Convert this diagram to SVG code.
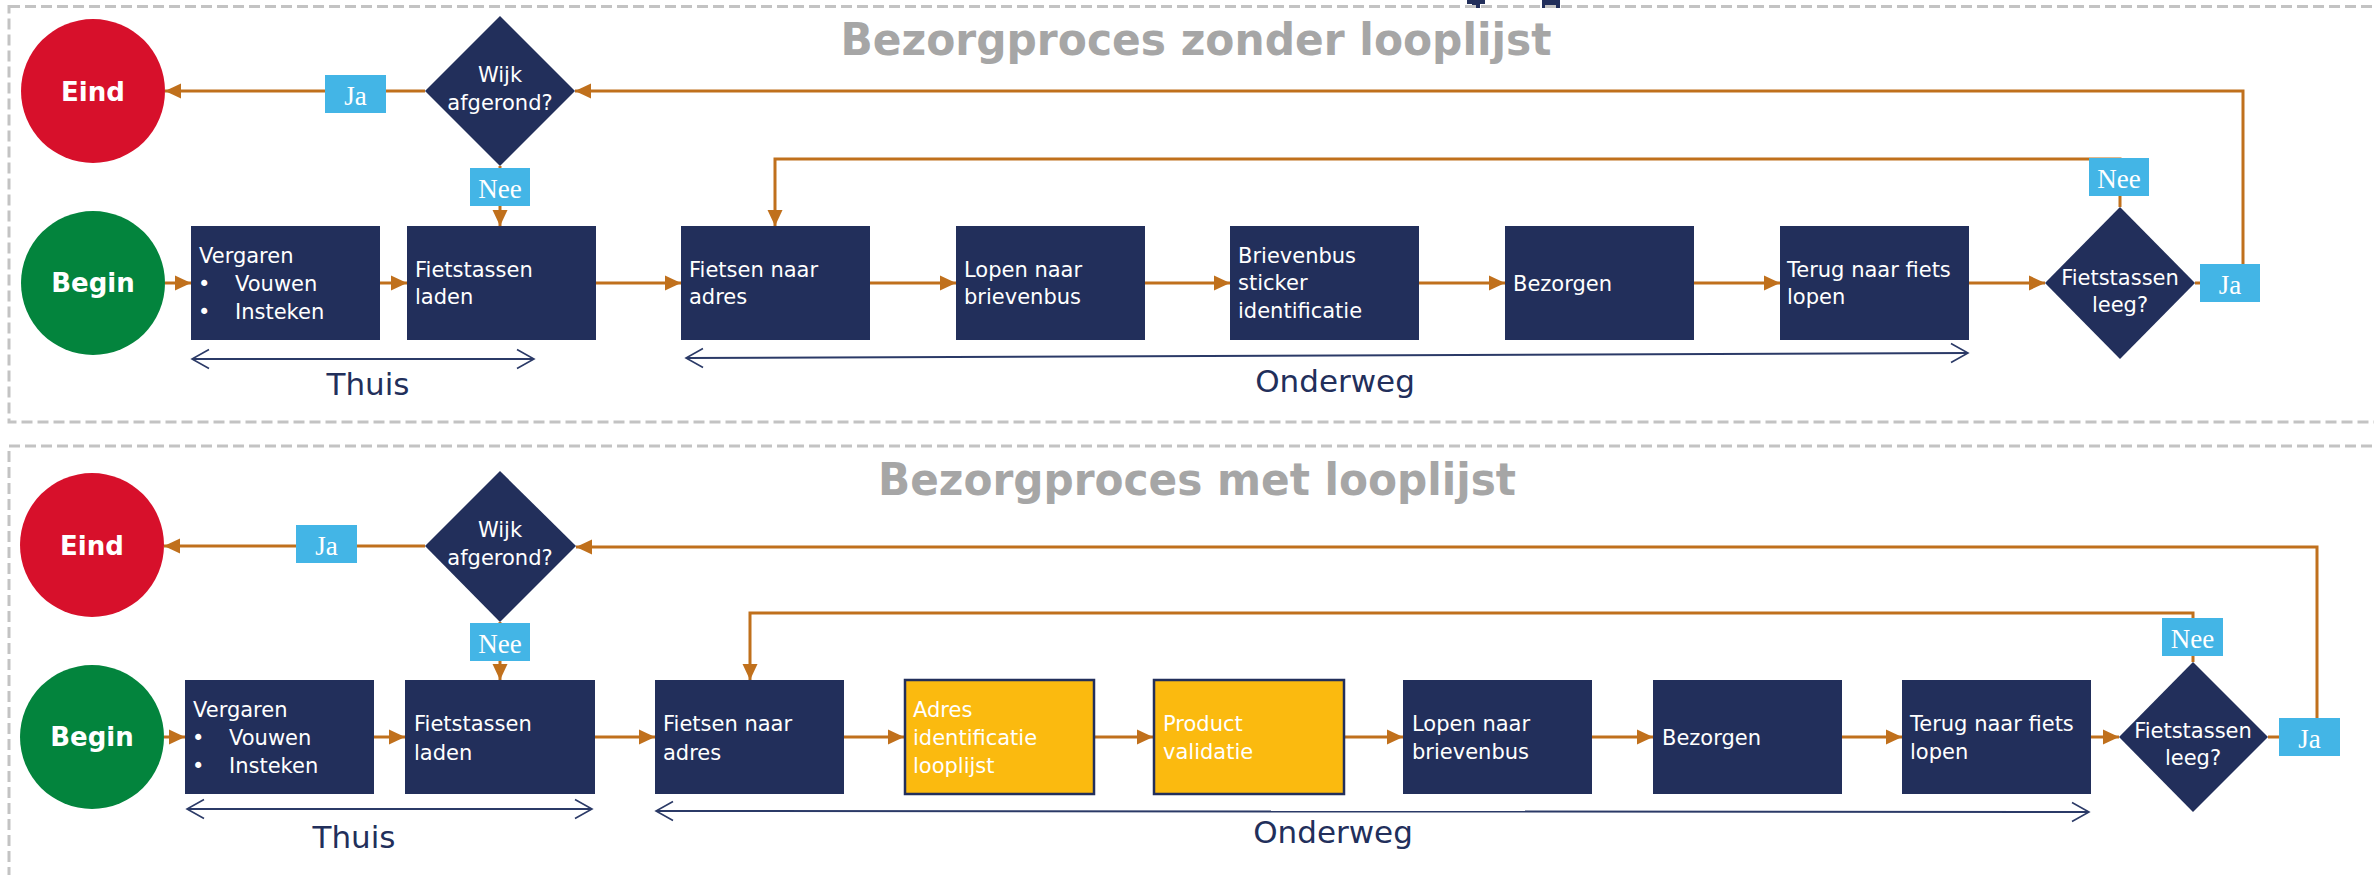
<svg xmlns="http://www.w3.org/2000/svg" width="2374" height="875" viewBox="0 0 2374 875">
<defs>
<style>
.panel{fill:none;stroke:#c3c3c3;stroke-width:3;stroke-dasharray:11 5}
.title{font-family:"DejaVu Sans",sans-serif;font-weight:bold;font-size:44px;fill:#a6a6a6;text-anchor:middle}
.box{fill:#222f5b}
.ybox{fill:#fbba0f;stroke:#222f5b;stroke-width:2.5}
.bt{font-family:"DejaVu Sans",sans-serif;font-size:21px;fill:#ffffff}
.dt{font-family:"DejaVu Sans",sans-serif;font-size:21px;fill:#ffffff;text-anchor:middle}
.ct{font-family:"DejaVu Sans",sans-serif;font-weight:bold;font-size:26px;fill:#ffffff;text-anchor:middle}
.lbl{fill:#43b5e6}
.lt{font-family:"Liberation Serif",serif;font-size:27px;fill:#ffffff;text-anchor:middle}
.con{fill:none;stroke:#c0701c;stroke-width:3;marker-end:url(#ah)}
.span{fill:none;stroke:#2b3a67;stroke-width:2;marker-start:url(#oa);marker-end:url(#oa)}
.st{font-family:"DejaVu Sans",sans-serif;font-size:31px;fill:#222f5b;text-anchor:middle}
</style>
<marker id="ah" markerWidth="16" markerHeight="16" refX="16" refY="8" orient="auto" markerUnits="userSpaceOnUse"><path d="M0,0.5 L16,8 L0,15.5 z" fill="#c0701c"/></marker>
<marker id="oa" markerWidth="20" markerHeight="22" refX="18" refY="11" orient="auto-start-reverse" markerUnits="userSpaceOnUse"><path d="M1,1.5 L18,11 L1,20.5" fill="none" stroke="#2b3a67" stroke-width="1.6"/></marker>
</defs>
<rect width="2374" height="875" fill="#ffffff"/>
<rect x="1467" y="0" width="18" height="4" fill="#222f5b"/>
<rect x="1472" y="0" width="8" height="8" fill="#222f5b"/>
<rect x="1542" y="0" width="18" height="8" fill="#222f5b"/>
<g id="panel-top"><rect class="panel" x="9" y="6.5" width="2420" height="415.5"/></g>
<g id="panel-bottom"><rect class="panel" x="9" y="446" width="2420" height="460"/></g>
<text class="title" x="1196" y="55" textLength="711" lengthAdjust="spacingAndGlyphs">Bezorgproces zonder looplijst</text>
<text class="title" x="1197" y="495" textLength="638" lengthAdjust="spacingAndGlyphs">Bezorgproces met looplijst</text>

<g id="connectors">
<path class="con" d="M425,91 H165"/>
<path class="con" d="M500,166 V226"/>
<path class="con" d="M165,283 H191"/>
<path class="con" d="M380,283 H407"/>
<path class="con" d="M596,283 H681"/>
<path class="con" d="M870,283 H956"/>
<path class="con" d="M1145,283 H1230"/>
<path class="con" d="M1419,283 H1505"/>
<path class="con" d="M1694,283 H1780"/>
<path class="con" d="M1969,283 H2045"/>
<path class="con" d="M2120,207 V159 H775 V226"/>
<path class="con" d="M2195,283 H2243 V91 H575"/>
<path class="span" d="M192,359 H534"/>
<path class="span" d="M686,358 L1968,353"/>
<path class="con" d="M425,546 H164"/>
<path class="con" d="M500,622 V680"/>
<path class="con" d="M164,737 H185"/>
<path class="con" d="M374,737 H405"/>
<path class="con" d="M595,737 H655"/>
<path class="con" d="M844,737 H904"/>
<path class="con" d="M1094,737 H1153"/>
<path class="con" d="M1344,737 H1403"/>
<path class="con" d="M1592,737 H1653"/>
<path class="con" d="M1842,737 H1902"/>
<path class="con" d="M2091,737 H2119"/>
<path class="con" d="M2193,662 V613 H750 V680"/>
<path class="con" d="M2268,737 H2317 V547 H576"/>
<path class="span" d="M187,809 H592"/>
<path class="span" d="M656,811 L2089,812"/>
</g>

<g id="t-eind"><circle cx="93" cy="91" r="72" fill="#d7102b"/><text class="ct" x="93" y="101">Eind</text></g>
<g id="t-begin"><circle cx="93" cy="283" r="72" fill="#03843d"/><text class="ct" x="93" y="292">Begin</text></g>
<g id="t-wijk"><polygon class="box" points="500,16 575,91 500,166 425,91"/><text class="dt" x="500" y="82">Wijk</text><text class="dt" x="500" y="110">afgerond?</text></g>
<g id="t-ja1"><rect class="lbl" x="325" y="75" width="61" height="38"/><text class="lt" x="355.5" y="105">Ja</text></g>
<g id="t-nee1"><rect class="lbl" x="470" y="168" width="60" height="38"/><text class="lt" x="500" y="198">Nee</text></g>
<g id="t-vergaren"><rect class="box" x="191" y="226" width="189" height="114"/><text class="bt" x="199" y="263">Vergaren</text><text class="bt" x="198" y="291">•</text><text class="bt" x="235" y="291">Vouwen</text><text class="bt" x="198" y="319">•</text><text class="bt" x="235" y="319">Insteken</text></g>
<g id="t-laden"><rect class="box" x="407" y="226" width="189" height="114"/><text class="bt" x="415" y="277">Fietstassen</text><text class="bt" x="415" y="304">laden</text></g>
<g id="t-fietsen"><rect class="box" x="681" y="226" width="189" height="114"/><text class="bt" x="689" y="277">Fietsen naar</text><text class="bt" x="689" y="304">adres</text></g>
<g id="t-lopen"><rect class="box" x="956" y="226" width="189" height="114"/><text class="bt" x="964" y="277">Lopen naar</text><text class="bt" x="964" y="304">brievenbus</text></g>
<g id="t-brievenbus"><rect class="box" x="1230" y="226" width="189" height="114"/><text class="bt" x="1238" y="263">Brievenbus</text><text class="bt" x="1238" y="290">sticker</text><text class="bt" x="1238" y="318">identificatie</text></g>
<g id="t-bezorgen"><rect class="box" x="1505" y="226" width="189" height="114"/><text class="bt" x="1513" y="291">Bezorgen</text></g>
<g id="t-terug"><rect class="box" x="1780" y="226" width="189" height="114"/><text class="bt" x="1787" y="277">Terug naar fiets</text><text class="bt" x="1787" y="304">lopen</text></g>
<g id="t-leeg"><polygon class="box" points="2120,207 2195,283 2120,359 2045,283"/><text class="dt" x="2120" y="285">Fietstassen</text><text class="dt" x="2120" y="312">leeg?</text></g>
<g id="t-nee2"><rect class="lbl" x="2089" y="158" width="60" height="38"/><text class="lt" x="2119" y="188">Nee</text></g>
<g id="t-ja2"><rect class="lbl" x="2200" y="264" width="60" height="38"/><text class="lt" x="2230" y="294">Ja</text></g>
<text class="st" x="368" y="395">Thuis</text>
<text class="st" x="1335" y="392">Onderweg</text>

<g id="b-eind"><circle cx="92" cy="545" r="72" fill="#d7102b"/><text class="ct" x="92" y="555">Eind</text></g>
<g id="b-begin"><circle cx="92" cy="737" r="72" fill="#03843d"/><text class="ct" x="92" y="746">Begin</text></g>
<g id="b-wijk"><polygon class="box" points="500,471 576,546 500,622 425,546"/><text class="dt" x="500" y="537">Wijk</text><text class="dt" x="500" y="565">afgerond?</text></g>
<g id="b-ja1"><rect class="lbl" x="296" y="525" width="61" height="38"/><text class="lt" x="326.5" y="555">Ja</text></g>
<g id="b-nee1"><rect class="lbl" x="470" y="623" width="60" height="38"/><text class="lt" x="500" y="653">Nee</text></g>
<g id="b-vergaren"><rect class="box" x="185" y="680" width="189" height="114"/><text class="bt" x="193" y="717">Vergaren</text><text class="bt" x="192" y="745">•</text><text class="bt" x="229" y="745">Vouwen</text><text class="bt" x="192" y="773">•</text><text class="bt" x="229" y="773">Insteken</text></g>
<g id="b-laden"><rect class="box" x="405" y="680" width="190" height="114"/><text class="bt" x="414" y="731">Fietstassen</text><text class="bt" x="414" y="760">laden</text></g>
<g id="b-fietsen"><rect class="box" x="655" y="680" width="189" height="114"/><text class="bt" x="663" y="731">Fietsen naar</text><text class="bt" x="663" y="760">adres</text></g>
<g id="b-adres"><rect class="ybox" x="905" y="680" width="189" height="114"/><text class="bt" x="913" y="717">Adres</text><text class="bt" x="913" y="745">identificatie</text><text class="bt" x="913" y="773">looplijst</text></g>
<g id="b-product"><rect class="ybox" x="1154" y="680" width="190" height="114"/><text class="bt" x="1163" y="731">Product</text><text class="bt" x="1163" y="759">validatie</text></g>
<g id="b-lopen"><rect class="box" x="1403" y="680" width="189" height="114"/><text class="bt" x="1412" y="731">Lopen naar</text><text class="bt" x="1412" y="759">brievenbus</text></g>
<g id="b-bezorgen"><rect class="box" x="1653" y="680" width="189" height="114"/><text class="bt" x="1662" y="745">Bezorgen</text></g>
<g id="b-terug"><rect class="box" x="1902" y="680" width="189" height="114"/><text class="bt" x="1910" y="731">Terug naar fiets</text><text class="bt" x="1910" y="759">lopen</text></g>
<g id="b-leeg"><polygon class="box" points="2193,662 2268,737 2193,812 2119,737"/><text class="dt" x="2193" y="738">Fietstassen</text><text class="dt" x="2193" y="765">leeg?</text></g>
<g id="b-nee2"><rect class="lbl" x="2162" y="618" width="61" height="38"/><text class="lt" x="2192.5" y="648">Nee</text></g>
<g id="b-ja2"><rect class="lbl" x="2279" y="718" width="61" height="38"/><text class="lt" x="2309.5" y="748">Ja</text></g>
<text class="st" x="354" y="848">Thuis</text>
<text class="st" x="1333" y="843">Onderweg</text>
</svg>
